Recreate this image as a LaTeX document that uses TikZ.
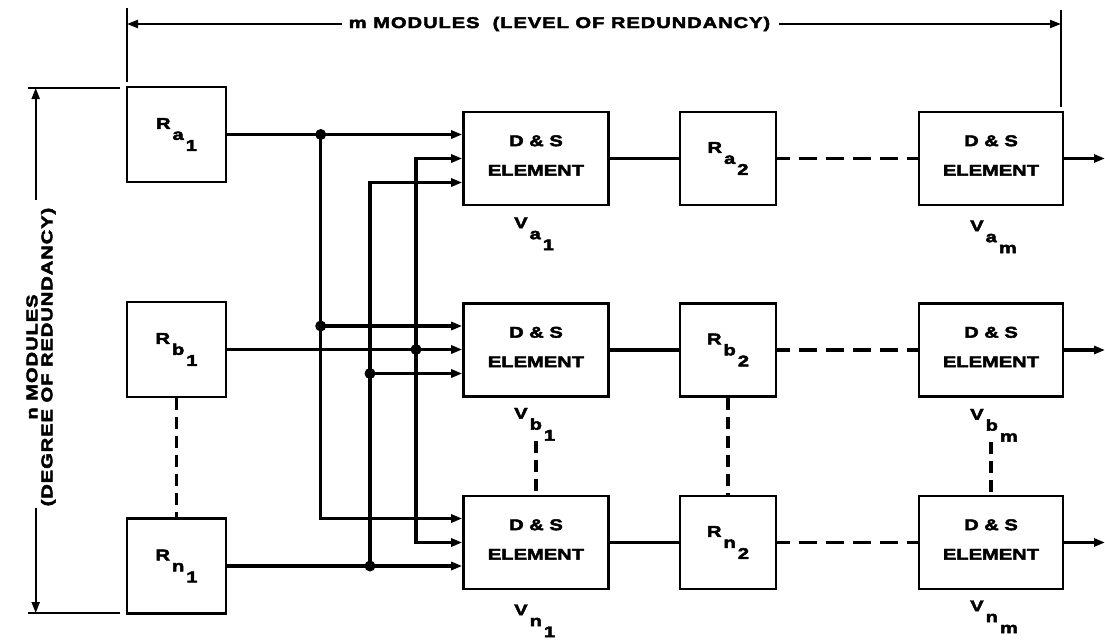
\documentclass[tikz,border=0pt]{standalone}
\usepackage{fontspec}
\newfontfamily\dfont[FakeStretch=1.3,BoldFeatures={FakeBold=3}]{Liberation Sans}
\newfontfamily\dlfont[FakeStretch=1.3,LetterSpace=6,BoldFeatures={FakeBold=3}]{Liberation Sans}
\usetikzlibrary{arrows.meta}
\newcommand\subl[3]{#1\kern2pt\raisebox{-11pt}{#2\kern2pt\raisebox{-11pt}{#3}}}
\begin{document}
\begin{tikzpicture}[x=1pt,y=-1pt,
  >={Triangle[length=11pt,width=8pt]},
  box/.style={draw, line width=2.6pt, inner sep=0pt, align=center,
    font=\dfont\bfseries\fontsize{15.5}{29.5}\selectfont},
  rbox/.style={box, minimum width=99pt, minimum height=95pt},
  r2box/.style={box, minimum width=96pt, minimum height=93pt},
  dsbox/.style={box, minimum width=145pt, minimum height=93pt},
  dsmbox/.style={box, minimum width=144pt, minimum height=93pt},
  vlab/.style={inner sep=0pt, anchor=north west, font=\dfont\bfseries\fontsize{15.5}{18}\selectfont},
  dimlab/.style={inner sep=0pt, font=\dlfont\bfseries\fontsize{15.5}{15}\selectfont},
  conn/.style={line width=3.4pt},
  hdash/.style={conn, dash pattern=on 18pt off 9pt, dash phase=5pt},
  vdash/.style={conn, dash pattern=on 12pt off 7pt},
  dim/.style={line width=2pt},
  tick/.style={line width=1.5pt},
  dot/.style={circle, fill, inner sep=0pt, minimum size=11pt}
]
\useasboundingbox (0,0) rectangle (1105,640);

% first column: input modules
\node[rbox] (Ra1) at (176.5,134.5) {\subl{R}{a}{1}};
\node[rbox] (Rb1) at (176.5,349.5) {\subl{R}{b}{1}};
\node[rbox] (Rn1) at (176.5,566) {\subl{R}{n}{1}};

% D&S elements column 1
\node[dsbox] (dsa1) at (536,158.5) {D \& S\\ELEMENT\rule[-6pt]{0pt}{6pt}};
\node[dsbox] (dsb1) at (536,350) {D \& S\\ELEMENT\rule[-6pt]{0pt}{6pt}};
\node[dsbox] (dsn1) at (536,542.5) {D \& S\\ELEMENT\rule[-6pt]{0pt}{6pt}};

% second modules
\node[r2box] (Ra2) at (728,158.5) {\subl{R}{a}{2}};
\node[r2box] (Rb2) at (728,350) {\subl{R}{b}{2}};
\node[r2box] (Rn2) at (728,542.5) {\subl{R}{n}{2}};

% last D&S column
\node[dsmbox] (dsam) at (991,158.5) {D \& S\\ELEMENT\rule[-6pt]{0pt}{6pt}};
\node[dsmbox] (dsbm) at (991,350) {D \& S\\ELEMENT\rule[-6pt]{0pt}{6pt}};
\node[dsmbox] (dsnm) at (991,542.5) {D \& S\\ELEMENT\rule[-6pt]{0pt}{6pt}};

% V labels
\node[vlab] (Va1) at ([xshift=-22pt,yshift=-11pt]dsa1.south) {\subl{V}{a}{1}};
\node[vlab] (Vb1) at ([xshift=-22pt,yshift=-10pt]dsb1.south) {\subl{V}{b}{1}};
\node[vlab] (Vn1) at ([xshift=-22pt,yshift=-14pt]dsn1.south) {\subl{V}{n}{1}};
\node[vlab] (Vam) at ([xshift=-21pt,yshift=-14pt]dsam.south) {\subl{V}{a}{m}};
\node[vlab] (Vbm) at ([xshift=-21pt,yshift=-11pt]dsbm.south) {\subl{V}{b}{m}};
\node[vlab] (Vnm) at ([xshift=-21pt,yshift=-10pt]dsnm.south) {\subl{V}{n}{m}};

% bus coordinates
\coordinate (b1x) at (320.7,0);
\coordinate (b2x) at (370,0);
\coordinate (b3x) at (416,0);
\coordinate (dsa1b) at ([yshift=-24pt]dsa1.west);
\coordinate (dsb1t) at ([yshift=24pt]dsb1.west);
\coordinate (dsb1b) at ([yshift=-23.5pt]dsb1.west);
\coordinate (dsn1t) at ([yshift=24pt]dsn1.west);

% direct inputs
\draw[conn,->] (Ra1.east) -- (Ra1.east -| dsa1.west);
\draw[conn,->] (Rb1.east) -- (Rb1.east -| dsb1.west);
\draw[conn,->] (Rn1.east) -- (Rn1.east -| dsn1.west);

% bus 1 (from R_a1)
\draw[conn,->] (Ra1.east -| b1x) -- (b1x |- dsn1t) -- (dsn1t);
\draw[conn,->] (dsb1t -| b1x) -- (dsb1t);
% bus 2 (from R_n1)
\draw[conn,->] (Rn1.east -| b2x) -- (b2x |- dsa1b) -- (dsa1b);
\draw[conn,->] (dsb1b -| b2x) -- (dsb1b);
% bus 3 (from R_b1)
\draw[conn,<->] (dsa1.west) -- (dsa1.west -| b3x) -- (dsn1.west -| b3x) -- (dsn1.west);

% junction dots
\node[dot] (j1) at (Ra1.east -| b1x) {};
\node[dot] (j2) at (dsb1t -| b1x) {};
\node[dot] (j3) at (Rb1.east -| b3x) {};
\node[dot] (j4) at (dsb1b -| b2x) {};
\node[dot] (j5) at (Rn1.east -| b2x) {};

% chain links
\draw[conn] (dsa1.east) -- (Ra2.west);
\draw[conn] (dsb1.east) -- (Rb2.west);
\draw[conn] (dsn1.east) -- (Rn2.west);
\draw[hdash] (Ra2.east) -- (dsam.west);
\draw[hdash] (Rb2.east) -- (dsbm.west);
\draw[hdash] (Rn2.east) -- (dsnm.west);

% outputs
\coordinate (outa) at (1105,158.5);
\coordinate (outb) at (1105,350);
\coordinate (outn) at (1105,542.5);
\draw[conn,->] (dsam.east) -- (outa);
\draw[conn,->] (dsbm.east) -- (outb);
\draw[conn,->] (dsnm.east) -- (outn);

% vertical dashed
\draw[vdash] (Rb1.south) -- (Rn1.north);
\draw[vdash] (Rb2.south) -- (Rn2.north);
\draw[vdash] (dsn1.north |- Vb1.south) -- (dsn1.north);
\draw[vdash] (dsnm.north |- Vbm.south) -- (dsnm.north);

% top dimension
\draw[tick] (127,8) -- (127,82);
\draw[tick] (1061,10) -- (1061,107);
\node[dimlab] (mtext) at (559.5,24) {m MODULES\ \ (LEVEL OF REDUNDANCY)};
\coordinate (tl) at (127,24);
\coordinate (tr) at (1061,24);
\draw[dim,->] ([xshift=-7pt]mtext.west) -- (tl);
\draw[dim,->] ([xshift=9pt]mtext.east) -- (tr);

% left dimension
\draw[tick] (28,88) -- (120,88);
\draw[tick] (28,613) -- (120,613);
\node[dimlab, rotate=90, align=center] (ntext) at (41,357) {n MODULES\\(DEGREE OF REDUNDANCY)};
\coordinate (lt) at (35.7,88);
\coordinate (lb) at (35.7,613);
\coordinate (lts) at (35.7,200);
\coordinate (lbs) at (35.7,508);
\draw[dim,->] (lts) -- (lt);
\draw[dim,->] (lbs) -- (lb);
\end{tikzpicture}
\end{document}
